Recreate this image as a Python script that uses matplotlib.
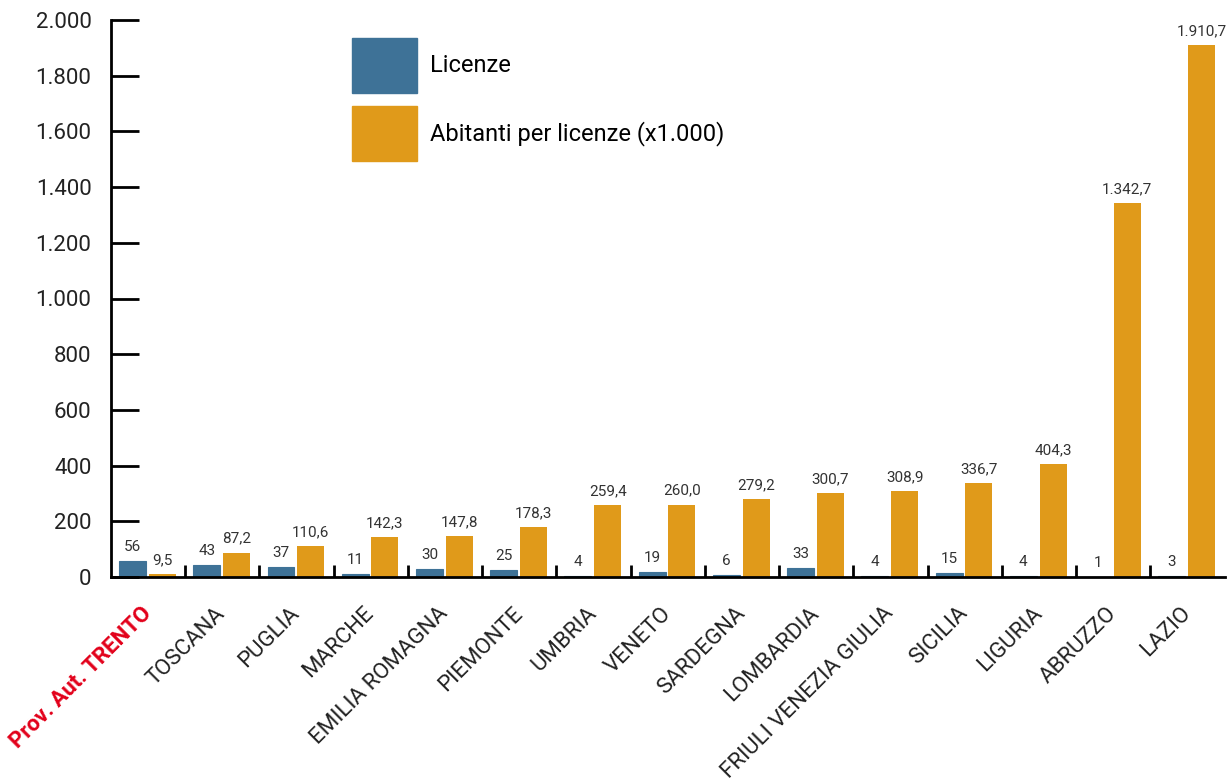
import numpy as np
import matplotlib.pyplot as plt
from matplotlib.patches import Patch

regioni = ["Prov. Aut. TRENTO", "TOSCANA", "PUGLIA", "MARCHE", "EMILIA ROMAGNA",
           "PIEMONTE", "UMBRIA", "VENETO", "SARDEGNA", "LOMBARDIA",
           "FRIULI VENEZIA GIULIA", "SICILIA", "LIGURIA", "ABRUZZO", "LAZIO"]
licenze = [56, 43, 37, 11, 30, 25, 4, 19, 6, 33, 4, 15, 4, 1, 3]
abitanti = [9.5, 87.2, 110.6, 142.3, 147.8, 178.3, 259.4, 260.0, 279.2, 300.7,
            308.9, 336.7, 404.3, 1342.7, 1910.7]
yticks = [0, 200, 400, 600, 800, 1000, 1200, 1400, 1600, 1800, 2000]

blu = "#3E7297"
arancio = "#E09A1A"
testo = "#333333"

plt.rcParams['font.family'] = ['Roboto', 'DejaVu Sans']


def it_fmt(v, dec):
    s = f"{v:,.{dec}f}"
    return s.replace(",", "X").replace(".", ",").replace("X", ".")


fig = plt.figure(figsize=(12.27, 7.83), dpi=100)
ax = fig.add_axes([111 / 1227, 206 / 783, 1 - 111 / 1227 - 0.002, 557 / 783])

x = np.arange(len(regioni))
w = 0.363
ax.bar(x - 0.21, licenze, w, color=blu, edgecolor=blu, linewidth=0.8)
ax.bar(x + 0.19, abitanti, w, color=arancio)

for xi, v in zip(x, licenze):
    ax.annotate(str(v), (xi - 0.21, v), xytext=(0, 5), textcoords="offset points",
                ha="center", va="bottom", fontsize=11, color=testo)
for xi, v in zip(x, abitanti):
    ax.annotate(it_fmt(v, 1), (xi + 0.19, v), xytext=(0, 5), textcoords="offset points",
                ha="center", va="bottom", fontsize=11, color=testo)

ax.set_xlim(-0.5, len(regioni) - 0.5)
ax.set_ylim(0, 2000)
ax.set_yticks(yticks)
ax.set_yticklabels([it_fmt(t, 0) for t in yticks], fontsize=16, color="#222222")
ax.tick_params(axis="y", direction="in", length=20, width=2, pad=14)

ax.set_xticks(x)
ax.set_xticklabels(regioni, fontsize=16, color="#222222")
ax.tick_params(axis="x", which="major", length=0, pad=24)
ax.set_xticks(np.arange(0.5, len(regioni) - 0.5, 1), minor=True)
ax.tick_params(axis="x", which="minor", direction="in", length=9, width=2)
for lab in ax.get_xticklabels():
    lab.set_rotation(45)
    lab.set_rotation_mode("anchor")
    lab.set_ha("right")
    lab.set_va("center")
first = ax.get_xticklabels()[0]
first.set_color("#E2001A")
first.set_fontweight("bold")

for s in ["top", "right"]:
    ax.spines[s].set_visible(False)
ax.spines["left"].set_linewidth(2)
ax.spines["bottom"].set_linewidth(2)

handles = [Patch(color=blu), Patch(color=arancio)]
fig.legend(handles, ["Licenze", "Abitanti per licenze (x1.000)"], loc="upper left",
           bbox_to_anchor=(352 / 1227, 1 - 38 / 783), frameon=False, fontsize=17,
           handlelength=2.75, handleheight=3.2, labelspacing=0.55, handletextpad=0.55,
           borderpad=0, borderaxespad=0)

fig.savefig("out.png", dpi=100)
